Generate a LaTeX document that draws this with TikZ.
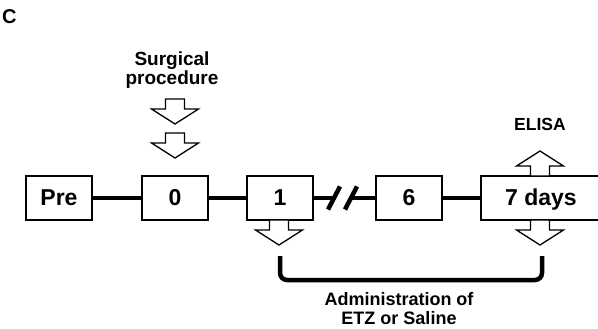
\documentclass[tikz,border=0pt]{standalone}
\usepackage{fontspec}
\setmainfont{Liberation Sans}
\usetikzlibrary{calc}
\begin{document}
\begin{tikzpicture}[x=1pt,y=-1pt,
  box/.style={draw,line width=1.8pt,fill=white,minimum width=66pt,minimum height=44pt,inner sep=0pt,
    text height=16pt,text depth=1pt,font=\fontsize{23}{27}\selectfont\bfseries},
  link/.style={line width=4.5pt},
  blk/.style={draw,line width=1.3pt,fill=white,line join=miter},
  lbl/.style={anchor=base,inner sep=0pt,font=\fontsize{18}{22}\selectfont\bfseries},
  downblk/.pic={\draw[blk] (-9.5,0) -- (9.5,0) -- (9.5,10) -- (23.5,10) -- (0,25) -- (-23.5,10) -- (-9.5,10) -- cycle;}]
\useasboundingbox (0,0) rectangle (598,329);
\clip (0,0) rectangle (598,329);

% panel letter
\node[anchor=base west,inner sep=0pt,font=\fontsize{20}{24}\selectfont\bfseries] (panel) at (2,24) {C};

% timeline boxes
\node[box] (pre) at (59,198) {Pre};
\node[box] (zero) at (175,198) {0};
\node[box] (one) at (280,198) {1};
\node[box] (six) at (409,198) {6};
\node[box,minimum width=120pt] (seven) at (541,198) {7 days};

% timeline links
\coordinate (brkL) at (334,198);
\coordinate (brkR) at (351,198);
\draw[link] (pre) -- (zero);
\draw[link] (zero) -- (one);
\draw[link] (one.east) -- (brkL);
\draw[link] (brkR) -- (six.west);
\draw[link] (six) -- (seven);
% break marks
\draw[link] ($(brkL)+(-6,11.5)$) -- ($(brkL)+(6,-11.5)$);
\draw[link] ($(brkR)+(-6,11.5)$) -- ($(brkR)+(6,-11.5)$);

% block arrows
\pic at (175,99) {downblk};
\pic at (175,133) {downblk};
\pic at (279,220) {downblk};
\pic at (540,220) {downblk};
\pic[yscale=-1] at (540,176) {downblk};

% bracket
\draw[line width=4.5pt,rounded corners=7pt] (280,256) -- (280,280) -- (542,280) -- (542,256);

% labels
\node[lbl,font=\fontsize{19}{22}\selectfont\bfseries] (surgA) at (172,66) {Surgical};
\node[lbl,font=\fontsize{19}{22}\selectfont\bfseries] (surgB) at (172,85) {procedure};
\node[lbl,font=\fontsize{17.5}{21}\selectfont\bfseries] (elisa) at (540,131) {ELISA};
\node[lbl] (admA) at (399,305) {Administration of};
\node[lbl] (admB) at (399,324.5) {ETZ or Saline};
\end{tikzpicture}
\end{document}
